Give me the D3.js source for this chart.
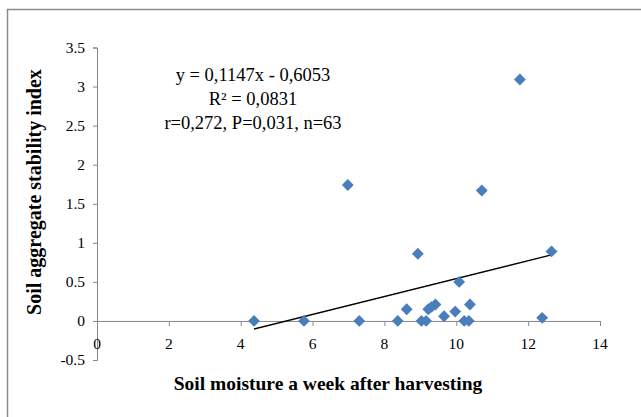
<!DOCTYPE html>
<html><head><meta charset="utf-8">
<script src="https://cdn.jsdelivr.net/npm/d3@7"></script>
<style>body{margin:0;background:#fff}svg{display:block}</style>
</head><body>
<svg id="c" width="641" height="417"></svg>
<script>
const xs = [4.37,5.76,6.98,7.30,8.37,8.62,8.93,9.03,9.16,9.22,9.31,9.42,9.66,9.97,10.08,10.22,10.35,10.38,10.71,11.77,12.39,12.65];
const ys = [0,0,1.74,0,0,0.15,0.86,0,0,0.15,0.18,0.21,0.06,0.12,0.50,0,0,0.21,1.67,3.09,0.04,0.89];
const xTicks = [0,2,4,6,8,10,12,14];
const yTicks = [-0.5,0,0.5,1,1.5,2,2.5,3,3.5];
const slope = 0.1147, intercept = -0.6053;
const fitRange = [4.37, 12.65];
const annot = ["y = 0,1147x - 0,6053","R² = 0,0831","r=0,272, P=0,031, n=63"];
const xTitle = "Soil moisture a week after harvesting";
const yTitle = "Soil aggregate stability index";

const svg = d3.select("#c");
const font = "'Liberation Serif','Times New Roman',serif";
svg.append("rect").attr("x",7.5).attr("y",9.5).attr("width",700).attr("height",500)
  .attr("fill","none").attr("stroke","#8c8c8c").attr("stroke-width",1.5);

const x = d3.scaleLinear().domain([0,14]).range([97,600]);
const y = d3.scaleLinear().domain([-0.5,3.5]).range([360,47.5]);
const axisColor = "#878787";

const gx = svg.append("g").attr("transform",`translate(0,${y(0)})`)
  .call(d3.axisBottom(x).tickValues(xTicks).tickFormat(()=>"").tickSizeOuter(0).tickSize(5));
gx.selectAll("path,line").attr("stroke",axisColor);

const gy = svg.append("g").attr("transform",`translate(${x(0)},0)`)
  .call(d3.axisLeft(y).tickValues(yTicks).tickFormat(()=>"").tickSizeOuter(0).tickSize(4));
gy.selectAll("path,line").attr("stroke",axisColor);

svg.append("g").selectAll("text").data(xTicks).join("text")
  .attr("x",d=>x(d)).attr("y",y(0)+28)
  .attr("text-anchor","middle").attr("fill","#000")
  .style("font-family",font).style("font-size","15.5px")
  .text(d=>d);

svg.append("g").selectAll("text").data(yTicks).join("text")
  .attr("x",x(0)-12).attr("y",d=>y(d)+5)
  .attr("text-anchor","end").attr("fill","#000")
  .style("font-family",font).style("font-size","15.5px")
  .text(d=>d);

svg.append("line")
  .attr("x1",x(fitRange[0])).attr("y1",y(slope*fitRange[0]+intercept))
  .attr("x2",x(fitRange[1])).attr("y2",y(slope*fitRange[1]+intercept))
  .attr("stroke","#000").attr("stroke-width",1.5);

const sym = d3.symbol().type(d3.symbolSquare).size(70);
svg.append("g").selectAll("path").data(xs.map((v,i)=>[v,ys[i]])).join("path")
  .attr("d",sym)
  .attr("transform",d=>`translate(${x(d[0])},${y(d[1])}) rotate(45)`)
  .attr("fill","#4a7ebb");

svg.append("g").selectAll("text").data(annot).join("text")
  .attr("x",253).attr("y",(d,i)=>81+i*24)
  .attr("text-anchor","middle").style("font-family",font).style("font-size","18.5px")
  .text(d=>d);

svg.append("text").attr("x",328).attr("y",390).attr("text-anchor","middle")
  .style("font-family",font).style("font-size","19.5px").attr("font-weight","bold").text(xTitle);
svg.append("text").attr("transform","translate(41,192) rotate(-90)").attr("text-anchor","middle")
  .style("font-family",font).style("font-size","20px").attr("font-weight","bold").text(yTitle);
</script>
</body></html>
